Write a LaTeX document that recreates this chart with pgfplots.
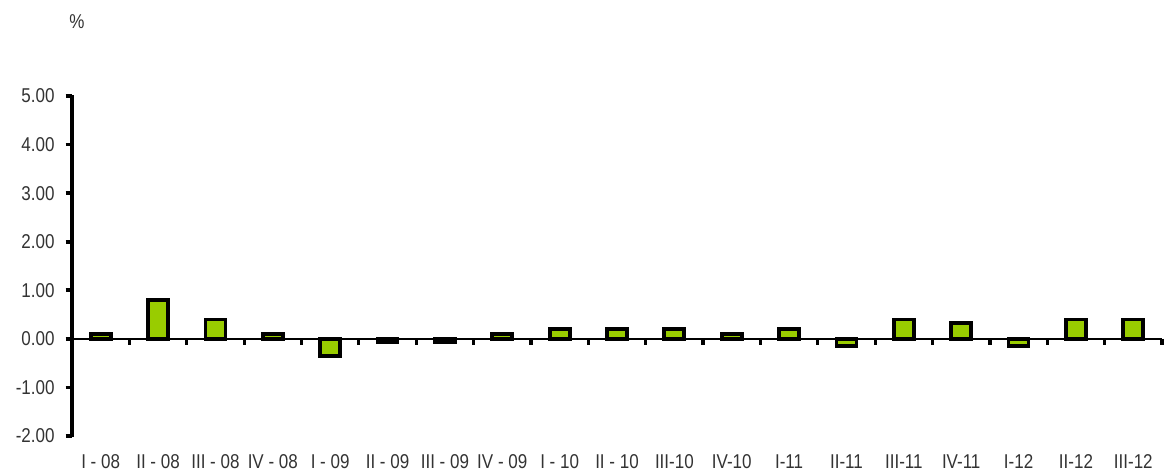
\documentclass[border=0pt]{standalone}
\usepackage{fontspec}
\setmainfont{Liberation Sans}[FakeStretch=0.85]
\usepackage{pgfplots}
\pgfplotsset{compat=1.18}
\definecolor{bargreen}{HTML}{99CC00}
\definecolor{txt}{HTML}{333333}
\begin{document}
\begin{tikzpicture}
\begin{axis}[
  scale only axis,
  width=545pt, height=170pt,
  xmin=-0.5, xmax=18.5,
  ymin=-2, ymax=5,
  axis x line*=bottom,
  x axis line style={draw=none},
  axis y line*=left,
  axis line style={line width=1.9pt, -},
  every outer y axis line/.append style={line width=1.9pt, -},
  ytick={-2,-1,0,1,2,3,4,5},
  every y tick/.append style={line width=1.9pt, black},
  major tick length=3.2pt,
  tick align=outside,
  yticklabel style={font=\fontsize{10}{11}\selectfont, text=txt, xshift=-2pt, /pgf/number format/fixed, /pgf/number format/fixed zerofill, /pgf/number format/precision=2, /pgf/number format/assume math mode=true},
  xtick={0,...,18},
  xticklabels={I - 08,II - 08,III - 08,IV - 08,I - 09,II - 09,III - 09,IV - 09,I - 10,II - 10,III-10,IV-10,I-11,II-11,III-11,IV-11,I-12,II-12,III-12},
  xtick style={draw=none},
  xticklabel style={font=\fontsize{10}{11}\selectfont, text=txt, yshift=-2.5pt},
  clip=false,
  ybar, bar width=10pt,
]
\addplot[fill=bargreen, draw=black, line width=1.9pt] coordinates {
(0,0.1) (1,0.8) (2,0.4) (3,0.1) (4,-0.35) (5,-0.07) (6,-0.07) (7,0.1) (8,0.2) (9,0.2)
(10,0.2) (11,0.1) (12,0.2) (13,-0.15) (14,0.4) (15,0.33) (16,-0.15) (17,0.4) (18,0.4)};
\draw[line width=1.1pt] (axis cs:-0.5,0) -- (axis cs:18.5,0);
\draw[line width=1.9pt] ([yshift=-0.5pt]rel axis cs:0,0) -- ([yshift=0.5pt]rel axis cs:0,1);
\pgfplotsinvokeforeach{0.5,1.5,...,18.5}{
  \draw[line width=1.6pt] (axis cs:#1,0) -- ([yshift=-3.2pt]axis cs:#1,0);
}
\node[font=\fontsize{10}{11}\selectfont, text=txt] at ([xshift=2.5pt,yshift=37pt]rel axis cs:0,1) {\%};
\path ([xshift=-36pt,yshift=48pt]rel axis cs:0,1) ([xshift=2pt,yshift=-17.5pt]rel axis cs:1,0);
\end{axis}
\end{tikzpicture}
\end{document}
